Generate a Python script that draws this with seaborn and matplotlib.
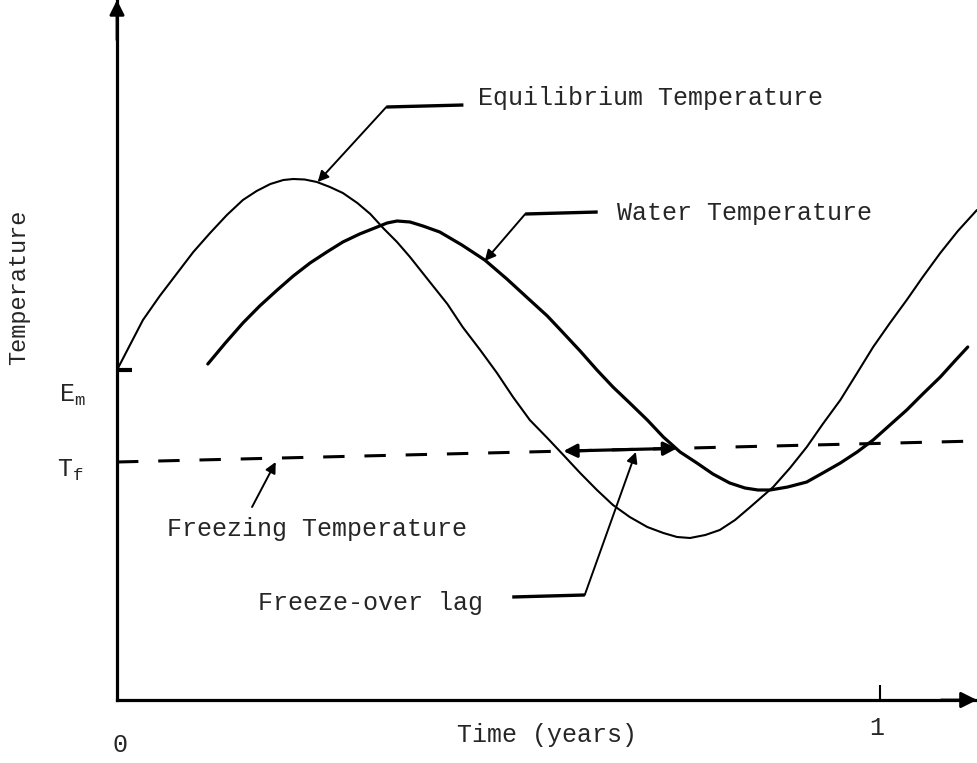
"""
Equilibrium vs water temperature over one year, with freeze-over lag.
Redrawn from a scanned schematic (values read off the picture, arbitrary units).
"""

import numpy as np
import pandas as pd
import matplotlib
matplotlib.use('Agg')
import matplotlib.pyplot as plt
import seaborn as sns

# --- data (time in years, temperature in arbitrary units) ---
eq_time = [0.000, 0.017, 0.034, 0.056, 0.079, 0.100, 0.122, 0.144, 0.165, 0.183,
           0.201, 0.218, 0.231, 0.246, 0.262, 0.279, 0.296, 0.315, 0.332, 0.350,
           0.367, 0.384, 0.410, 0.433, 0.453, 0.476, 0.498, 0.519, 0.541, 0.564,
           0.585, 0.607, 0.629, 0.650, 0.672, 0.695, 0.716, 0.734, 0.751, 0.771,
           0.790, 0.810, 0.830, 0.845, 0.860, 0.882, 0.904, 0.925, 0.948, 0.970,
           0.991, 1.013, 1.035, 1.056, 1.079, 1.102, 1.127]
eq_temp = [3.30, 3.55, 3.80, 4.04, 4.27, 4.48, 4.67, 4.85, 5.00, 5.09,
           5.16, 5.20, 5.21, 5.205, 5.18, 5.13, 5.07, 4.97, 4.86, 4.71,
           4.58, 4.43, 4.18, 3.96, 3.73, 3.50, 3.27, 3.03, 2.80, 2.62,
           2.45, 2.27, 2.10, 1.95, 1.83, 1.73, 1.67, 1.63, 1.62, 1.65,
           1.70, 1.80, 1.93, 2.03, 2.13, 2.32, 2.53, 2.76, 3.00, 3.27,
           3.53, 3.77, 4.00, 4.23, 4.47, 4.69, 4.90]

water_time = [0.119, 0.142, 0.165, 0.187, 0.210, 0.231, 0.253, 0.275, 0.296, 0.318,
              0.341, 0.354, 0.367, 0.384, 0.401, 0.423, 0.452, 0.482, 0.511, 0.541,
              0.564, 0.585, 0.607, 0.629, 0.650, 0.672, 0.695, 0.716, 0.738, 0.760,
              0.781, 0.803, 0.823, 0.840, 0.856, 0.879, 0.904, 0.925, 0.948, 0.970,
              0.991, 1.013, 1.035, 1.056, 1.079, 1.098, 1.115]
water_temp = [3.36, 3.57, 3.77, 3.94, 4.10, 4.24, 4.37, 4.48, 4.58, 4.66,
              4.73, 4.77, 4.79, 4.78, 4.74, 4.68, 4.55, 4.40, 4.21, 4.00,
              3.84, 3.67, 3.49, 3.30, 3.13, 2.97, 2.80, 2.63, 2.48, 2.37,
              2.26, 2.17, 2.12, 2.10, 2.10, 2.13, 2.18, 2.27, 2.37, 2.48,
              2.60, 2.75, 2.90, 3.06, 3.23, 3.39, 3.53]

freeze_time = [0.0, 1.127]
freeze_temp = [2.38, 2.59]

em_level = 3.30
lag_start, lag_end = 0.585, 0.734   # crossings of the freezing line

eq_df = pd.DataFrame({'time': eq_time, 'temp': eq_temp})
water_df = pd.DataFrame({'time': water_time, 'temp': water_temp})
freeze_df = pd.DataFrame({'time': freeze_time, 'temp': freeze_temp})

sns.set_theme(style='white')
plt.rcParams['font.family'] = ['Liberation Mono', 'DejaVu Sans']
plt.rcParams['mathtext.fontset'] = 'custom'
plt.rcParams['mathtext.rm'] = 'Liberation Mono'
plt.rcParams['mathtext.it'] = 'Liberation Mono'

FS = 18
W, H = 977, 763
fig = plt.figure(figsize=(W / 100, H / 100), dpi=100)
ax = fig.add_axes([117 / W, 63 / H, 860 / W, 700 / H])

# curves
sns.lineplot(data=eq_df, x='time', y='temp', color='black', lw=1.5, ax=ax)
sns.lineplot(data=water_df, x='time', y='temp', color='black', lw=2.3, ax=ax)
sns.lineplot(data=freeze_df, x='time', y='temp', color='black', lw=2.2, ax=ax)
ax.lines[-1].set_dashes((7, 6.5))
for line in ax.lines:
    line.set_solid_joinstyle('round')

ax.set_xlim(0, 1.1271)
ax.set_ylim(0, 7.0)

# axes as arrows
for side in ['top', 'right']:
    ax.spines[side].set_visible(False)
for side in ['left', 'bottom']:
    ax.spines[side].set_linewidth(2.3)
    ax.spines[side].set_color('black')
ax.annotate('', xy=(0, 7.0), xytext=(0, 6.6), xycoords='data',
            arrowprops=dict(arrowstyle='-|>', color='black', lw=2.0,
                            mutation_scale=22, shrinkA=0, shrinkB=0),
            annotation_clip=False)
ax.annotate('', xy=(1.1271, 0), xytext=(1.08, 0), xycoords='data',
            arrowprops=dict(arrowstyle='-|>', color='black', lw=2.0,
                            mutation_scale=24, shrinkA=0, shrinkB=0),
            annotation_clip=False)

# ticks: only the year mark and the E_m stub
ax.set_xticks([1.0], [''])
ax.tick_params(axis='x', direction='in', length=11, width=1.5, color='black', bottom=True)
ax.set_yticks([em_level], [''])
ax.tick_params(axis='y', direction='in', length=11, width=3, color='black', left=True)

xtrans = ax.get_xaxis_transform()
ax.text(0.004, -0.064, '0', transform=xtrans, ha='center', va='center', fontsize=FS)
ax.text(0.996, -0.040, '1', transform=xtrans, ha='center', va='center', fontsize=FS)

ax.set_xlabel('Time (years)', fontsize=FS)
ax.xaxis.set_label_coords(0.50, -0.033)
ax.set_ylabel('Temperature', fontsize=17)
ax.yaxis.set_label_coords(-0.101, 0.589)

ytrans = ax.get_yaxis_transform()
ax.text(-0.052, em_level - 0.25, r'$\mathrm{E_m}$', transform=ytrans,
        ha='center', va='center', fontsize=FS)
ax.text(-0.054, freeze_temp[0] - 0.08, r'$\mathrm{T_f}$', transform=ytrans,
        ha='center', va='center', fontsize=FS)

# freeze-over lag double arrow along the freezing line
lag_y0 = np.interp(lag_start, freeze_time, freeze_temp)
lag_y1 = np.interp(lag_end, freeze_time, freeze_temp)
ax.annotate('', xy=(lag_start, lag_y0), xytext=(lag_end, lag_y1),
            arrowprops=dict(arrowstyle='<|-|>', color='black', lw=2.3,
                            mutation_scale=20, shrinkA=0, shrinkB=0))

# leaders and labels
def leader(tip, knee, end, lw_h=2.4):
    ax.plot([knee[0], end[0]], [knee[1], end[1]], color='black', lw=lw_h,
            solid_capstyle='butt')
    ax.annotate('', xy=tip, xytext=knee,
                arrowprops=dict(arrowstyle='-|>', color='black', lw=1.4,
                                mutation_scale=16, shrinkA=0, shrinkB=0))

leader((0.263, 5.18), (0.353, 5.93), (0.454, 5.95))
ax.text(0.473, 6.02, 'Equilibrium Temperature', ha='left', va='center', fontsize=FS)

leader((0.482, 4.39), (0.535, 4.86), (0.630, 4.88))
ax.text(0.655, 4.87, 'Water Temperature', ha='left', va='center', fontsize=FS)

ax.annotate('', xy=(0.208, 2.38), xytext=(0.177, 1.93),
            arrowprops=dict(arrowstyle='-|>', color='black', lw=1.4,
                            mutation_scale=16, shrinkA=0, shrinkB=0))
ax.text(0.0655, 1.71, 'Freezing Temperature', ha='left', va='center', fontsize=FS)

leader((0.680, 2.48), (0.613, 1.05), (0.518, 1.03))
ax.text(0.185, 0.97, 'Freeze-over lag', ha='left', va='center', fontsize=FS)

fig.savefig('out.png', dpi=100)
plt.close(fig)
